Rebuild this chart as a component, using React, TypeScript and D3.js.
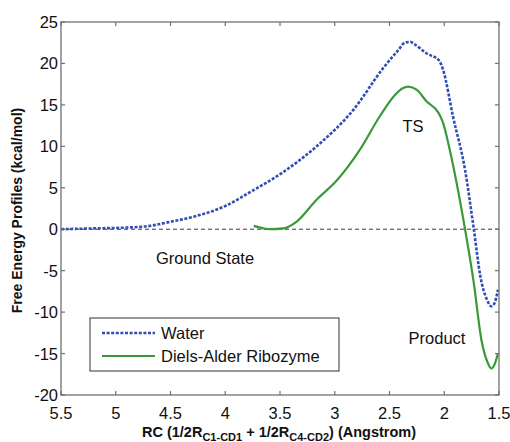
import React from "react";
import * as d3 from "d3";

const waterX = [5.5, 5.2, 4.9, 4.69, 4.5, 4.29, 4.0, 3.77, 3.47, 3.17, 2.83, 2.56, 2.42, 2.36, 2.31, 2.27, 2.16, 2.05, 2.01, 1.92, 1.81, 1.73, 1.67, 1.61, 1.57, 1.54, 1.51];
const waterY = [0, 0.1, 0.2, 0.4, 0.9, 1.5, 2.8, 4.5, 6.9, 9.95, 14.4, 19.4, 21.6, 22.5, 22.6, 22.3, 21.2, 20.4, 19.2, 13.6, 7.15, 0, -5.7, -8.5, -9.3, -8.9, -7.3];
const riboX = [3.74, 3.65, 3.59, 3.47, 3.35, 3.17, 2.98, 2.77, 2.59, 2.45, 2.38, 2.33, 2.25, 2.16, 2.05, 2.01, 1.95, 1.81, 1.73, 1.66, 1.6, 1.57, 1.54, 1.51];
const riboY = [0.4, 0.1, 0, 0.1, 0.9, 3.5, 5.9, 9.6, 13.6, 16.2, 17.0, 17.2, 16.8, 15.4, 14.0, 12.8, 9.6, 0, -6.5, -13.4, -16.2, -16.8, -16.3, -15.0];
const xTicks = [5.5, 5, 4.5, 4, 3.5, 3, 2.5, 2, 1.5];
const yTicks = [25, 20, 15, 10, 5, 0, -5, -10, -15, -20];
const seriesNames = ["Water", "Diels-Alder Ribozyme"];

export default function App() {
  const L = 61, R = 499, T = 22, B = 395;
  const x = d3.scaleLinear().domain([5.5, 1.5]).range([L, R]);
  const y = d3.scaleLinear().domain([-20, 25]).range([B, T]);
  const line = d3.line<[number, number]>().x(d => x(d[0])).y(d => y(d[1])).curve(d3.curveMonotoneX);
  const wPts = waterX.map((v, i) => [v, waterY[i]] as [number, number]);
  const rPts = riboX.map((v, i) => [v, riboY[i]] as [number, number]);
  const font = "Liberation Sans, Arial, Helvetica, sans-serif";
  const blue = "#2f4db5";
  const green = "#3a9a3a";
  const axisC = "#707070";
  return (
    <svg width={510} height={442} style={{ position: "absolute", left: 0, top: 0 }} fontFamily={font}>
      <rect x={0} y={0} width={510} height={442} fill="#fff" />
      <line x1={L} x2={R} y1={y(0)} y2={y(0)} stroke="#222" strokeWidth={0.9} strokeDasharray="4,3" />
      <path d={line(wPts) || ""} fill="none" stroke={blue} strokeWidth={2.6} strokeDasharray="3,1.6" />
      <path d={line(rPts) || ""} fill="none" stroke={green} strokeWidth={2.2} />
      <rect x={L} y={T} width={R - L} height={B - T} fill="none" stroke={axisC} strokeWidth={1.3} />
      {xTicks.map(t => (
        <g key={"x" + t}>
          <line x1={x(t)} x2={x(t)} y1={B} y2={B - 4} stroke={axisC} strokeWidth={1.2} />
          <line x1={x(t)} x2={x(t)} y1={T} y2={T + 4} stroke={axisC} strokeWidth={1.2} />
          <text x={x(t)} y={419} textAnchor="middle" fontSize={16.5} fill="#111">{t}</text>
        </g>
      ))}
      {yTicks.map(t => (
        <g key={"y" + t}>
          <line x1={L} x2={L + 4} y1={y(t)} y2={y(t)} stroke={axisC} strokeWidth={1.2} />
          <line x1={R} x2={R - 4} y1={y(t)} y2={y(t)} stroke={axisC} strokeWidth={1.2} />
          <text x={L - 3} y={y(t) + 6} textAnchor="end" fontSize={16.5} fill="#111">{t}</text>
        </g>
      ))}
      <text transform={`translate(22,${(T + B) / 2 + 2}) rotate(-90)`} textAnchor="middle" fontSize={14} fontWeight="bold" fill="#111">
        Free Energy Profiles (kcal/mol)
      </text>
      <text x={279} y={437} textAnchor="middle" fontSize={14.5} fontWeight="bold" fill="#111">
        RC (1/2R<tspan fontSize={11} dy={4}>C1-CD1</tspan><tspan dy={-4}> + 1/2R</tspan><tspan fontSize={11} dy={4}>C4-CD2</tspan><tspan dy={-4}>) (Angstrom)</tspan>
      </text>
      <text x={205} y={264} textAnchor="middle" fontSize={16.5} fill="#111">Ground State</text>
      <text x={437} y={344} textAnchor="middle" fontSize={16.5} fill="#111">Product</text>
      <text x={413} y={132} textAnchor="middle" fontSize={16.5} fill="#111">TS</text>
      <rect x={90} y={318} width={249} height={53} fill="#fff" stroke="#333" strokeWidth={1} />
      <line x1={102} x2={155} y1={333} y2={333} stroke={blue} strokeWidth={2.4} strokeDasharray="3,1.6" />
      <line x1={102} x2={155} y1={356} y2={356} stroke={green} strokeWidth={2.2} />
      <text x={161} y={339} fontSize={16.5} fill="#111">{seriesNames[0]}</text>
      <text x={161} y={362} fontSize={16.5} fill="#111">{seriesNames[1]}</text>
    </svg>
  );
}
